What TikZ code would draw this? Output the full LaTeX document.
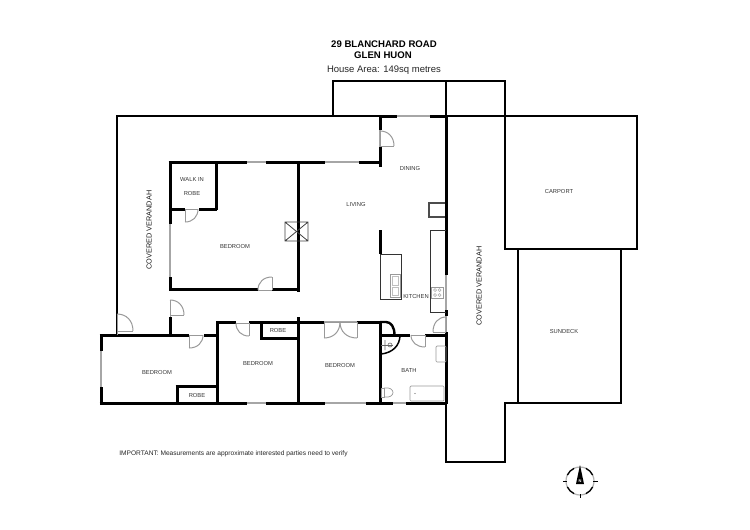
\documentclass[tikz,border=0pt]{standalone}
\usepackage{fontspec}
\setmainfont{Liberation Sans}
\tikzset{
 wall/.style={line width=3pt,black,line cap=butt},
 med/.style={line width=1.7pt,black},
 thin/.style={line width=0.9pt,black!80},
 gl/.style={line width=1.2pt,black!35},
 dr/.style={line width=0.7pt,black!40},
 lab/.style={font=\fontsize{5.8}{7}\selectfont,text=black!80,inner sep=0pt},
 big/.style={font=\fontsize{7.3}{9}\selectfont,text=black!90,inner sep=0pt},
 ttl/.style={font=\bfseries\fontsize{9.6}{11}\selectfont,inner sep=0pt},
}
\begin{document}
\begin{tikzpicture}[x=1pt,y=-1pt]
\useasboundingbox (0,0) rectangle (750,530);
\node[ttl] (t1) at (384,44) {29 BLANCHARD ROAD};
\node[ttl] (t2) at (383,55.5) {GLEN HUON};
\node[inner sep=0pt,font=\fontsize{9.5}{11}\selectfont,text=black!85] (t3) at (384,70) {House Area: 149sq metres};
% outer verandah, carport, sundeck
\draw[med] (117,335)--(117,116)--(637,116)--(637,249)--(505,249)--(505,81)--(333,81)--(333,116);
\draw[med] (446,81)--(446,116);
\draw[med] (518,249)--(518,403);
\draw[med] (621,249)--(621,403)--(505,403)--(505,462)--(446,462)--(446,403);
% main bedroom
\draw[wall] (170,209)--(170,160.5);
\draw[wall] (168.5,162)--(247,162) (266,162)--(325,162) (359,162)--(381.5,162);
\draw[gl] (247,162)--(266,162) (325,162)--(359,162);
\draw[wall] (216,162)--(216,210);
\draw[wall] (170,209)--(185,209) (199,209)--(217,209);
\draw[wall] (170,209)--(170,224);
\draw[gl] (170,224)--(170,277);
\draw[wall] (170,277)--(170,291);
\draw[wall] (170,289.5)--(258,289.5) (272,289.5)--(298,289.5);
\draw[wall] (298,162)--(298,292);
% living/dining
\draw[wall] (380,116)--(380,130) (380,147)--(380,167);
\draw[gl] (380,130)--(380,147);
\draw[wall] (380,116)--(397,116) (430,116)--(447,116);
\draw[gl] (397,116)--(430,116);
\draw[wall] (446,116)--(446,275) (446,310)--(446,316) (446,332)--(446,404);
\draw[gl] (446,275)--(446,310) (446,316)--(446,332);
% kitchen
\draw[wall] (380,230)--(380,254);
\draw[thin] (380,254)--(401,254)--(401,299.5)--(380,299.5)--cycle;
\draw[thin] (446,230)--(430,230)--(430,312)--(446,312);
\draw[line width=1.1pt,black!70] (445,203)--(429,203)--(429,217)--(445,217);
\draw[dr] (390,274) rectangle (400,297);
\draw[dr,black!25] (392,276) rectangle (398,285) (392,287) rectangle (398,295);
\draw[dr] (431,287) rectangle (443,298);
\foreach \a/\b in {435/290,439.5/290,435/295,439.5/295}{\draw[dr,black!30] (\a,\b) circle (1.5);}
% lower rooms
\draw[wall] (101,351)--(101,334);
\draw[wall] (99.5,335)--(189,335) (204,335)--(217,335);
\draw[wall] (101,387)--(101,404.5);
\draw[gl] (101,351)--(101,387);
\draw[wall] (99.5,403)--(247,403) (266,403)--(325,403) (366,403)--(393,403) (406,403)--(447,403);
\draw[gl] (247,403)--(266,403) (325,403)--(366,403) (393,403)--(406,403);
\draw[wall] (170,317)--(170,335);
\draw[wall] (217,321)--(217,403);
\draw[wall] (217,322)--(236,322) (249,322)--(324,322) (357,322)--(381,322);
\draw[gl] (324,322)--(357,322);
\draw[wall] (298,317)--(298,403);
\draw[wall] (261,322)--(261,339.5) (261,338)--(298,338);
\draw[wall] (177,403)--(177,386) (175.5,386)--(217,386);
\draw[wall] (380,321)--(380,403);
\draw[line width=2.4pt] (380,322)--(386,322) .. controls (391,322) and (394.5,327) .. (394.5,335);
\draw[wall] (381,335)--(410,335) (425,335)--(446,335);
\draw[line width=1.5pt] (400,335) .. controls (400,346) and (392,353) .. (381,354);
% doors
\foreach \hx/\hy/\ex/\ey/\ax/\ay in {
 185/222/198/209/185/209,
 272/277/258/290/272/290,
 170/300/184/315/170/315,
 117/314/133/331/117/331,
 380/131/394/146/380/146,
 446/317/433/332/446/332,
 249/336/236/323/249/323,
 189/348/203/335/189/335,
 425/347/411/335/425/335,
 324/338/340/322/324/322,
 357/338/340/322/357/322}{
 \draw[dr,line width=1pt] (\ax,\ay)--(\hx,\hy);
 \draw[dr,line width=1pt] (\ax,\ay)--(\ex,\ay);
 \draw[dr,line width=1pt] (\hx,\hy) .. controls ({\hx+0.6*(\ex-\ax)},{\hy}) and ({\ex},{\ey+0.6*(\hy-\ay)}) .. (\ex,\ey);
}
\draw[dr,line width=1pt] (117,314)--(117,335);
\draw[dr,line width=1pt] (170,300)--(170,317);
% skylight
\draw[line width=0.8pt,black!75] (285,222) rectangle (308,241) (285,222)--(308,241) (285,241)--(308,222);
% fixtures
\draw[dr,rounded corners=1pt] (436,346) rectangle (446,362);
\draw[dr,rounded corners=1pt] (410,386) rectangle (444,401);
\fill[black!60] (415,393.5) circle (0.7);
\draw[dr] (381,388) rectangle (384,397);
\draw[dr] (384,388) .. controls (396,386) and (396,399) .. (384,397);
\draw[line width=0.6pt,black!60] (381,345)--(393,345);
\draw[line width=0.6pt,black!60] (385,340)--(385,350) (390,345) circle (2);
% labels
\node[lab] (l1) at (192,180) {WALK IN};
\node[lab] (l2) at (192,194) {ROBE};
\node[lab] (l3) at (235,247) {BEDROOM};
\node[lab] (l4) at (356,205) {LIVING};
\node[lab] (l5) at (410,169) {DINING};
\node[lab] (l6) at (416,297) {KITCHEN};
\node[lab] (l7) at (157,372) {BEDROOM};
\node[lab] (l8) at (197,395) {ROBE};
\node[lab] (l9) at (258,363) {BEDROOM};
\node[lab] (l10) at (278,330) {ROBE};
\node[lab] (l11) at (340,365) {BEDROOM};
\node[lab] (l12) at (409,371) {BATH};
\node[lab] (l13) at (559,192) {CARPORT};
\node[lab] (l14) at (564,332) {SUNDECK};
\node[big,rotate=90] (l15) at (149,230) {COVERED VERANDAH};
\node[big,rotate=90] (l16) at (479,286) {COVERED VERANDAH};
\node[inner sep=0pt,font=\fontsize{6.6}{8}\selectfont,text=black!85] (l17) at (233.5,454) {IMPORTANT: Measurements are approximate interested parties need to verify};
% compass
\coordinate (c) at (580,481);
\draw[line width=1.2pt,black!30] (c) circle (14);
\foreach \s in {25,115,205,295}{\draw[line width=1.3pt,black] (c) ++(\s:14) arc[start angle=\s,end angle=\s+40,radius=14];}
\draw[line width=0.9pt] (580,494)--(580,498) (563,481)--(567,481) (593,481)--(598,481);
\fill (580,465)--(584,484)--(576,484)--cycle;
\node[inner sep=0pt,text=white,font=\bfseries\fontsize{4}{4}\selectfont] (n) at (580,481) {N};
\end{tikzpicture}
\end{document}
